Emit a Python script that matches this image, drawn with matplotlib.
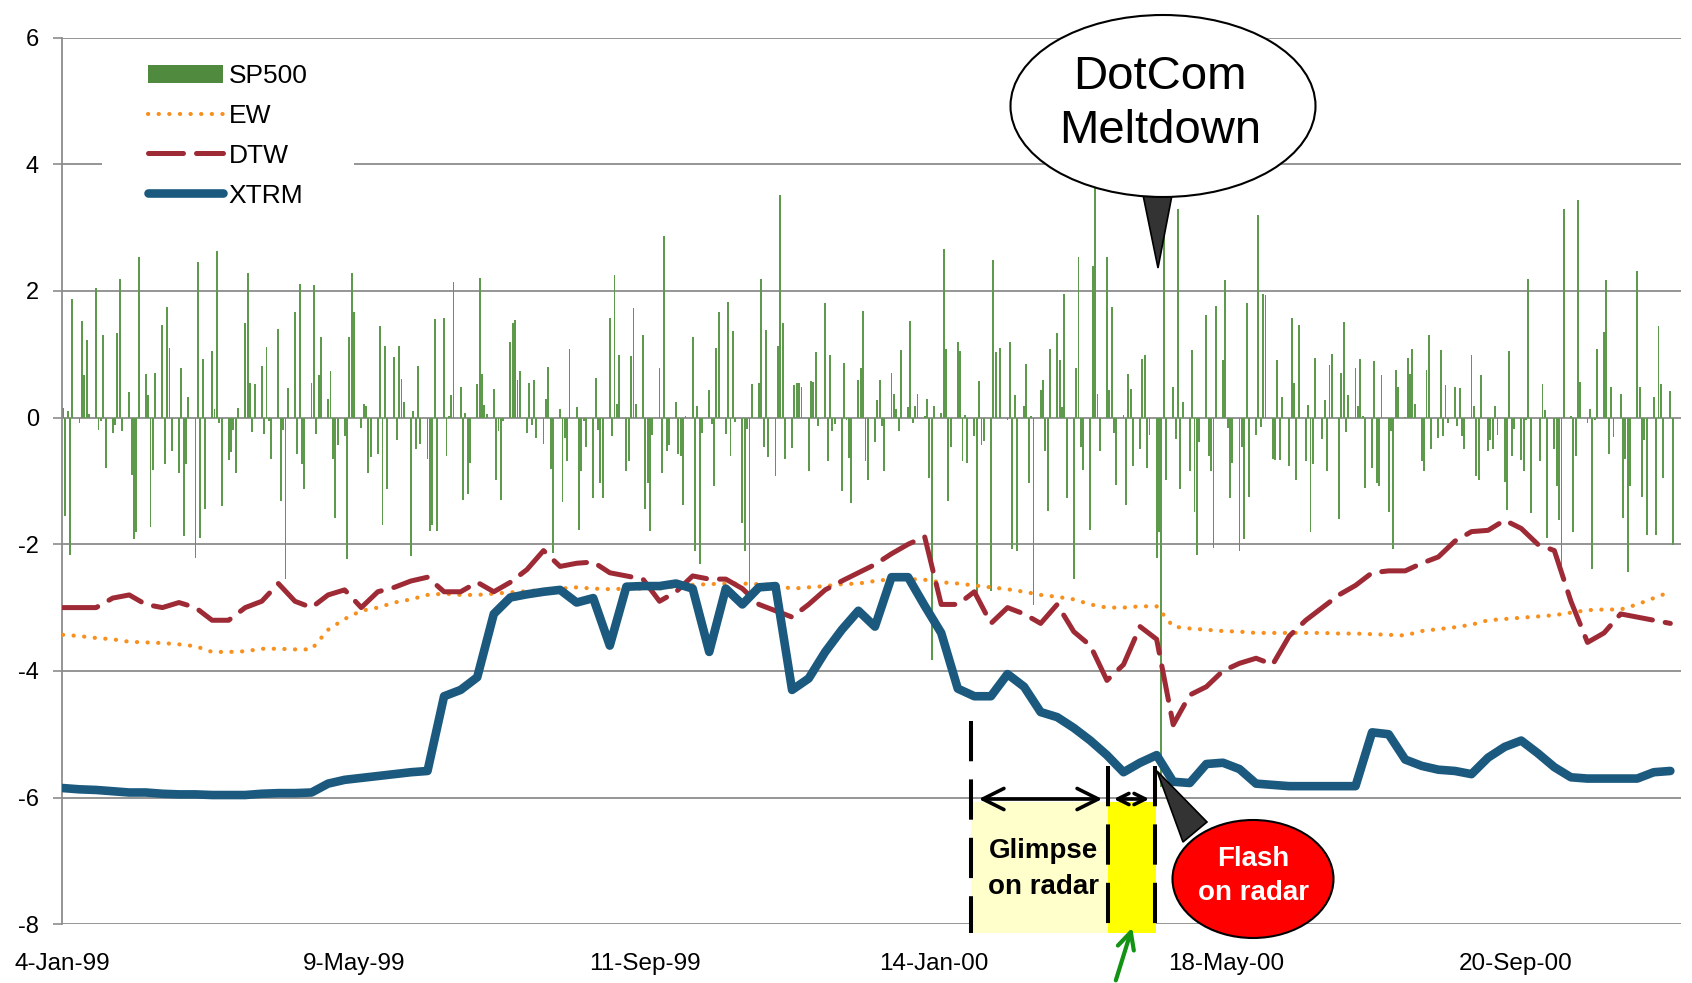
import numpy as np
import pandas as pd
import matplotlib
matplotlib.use('Agg')
import matplotlib.pyplot as plt
from matplotlib.patches import Ellipse, Polygon, Rectangle, Patch, FancyArrowPatch
from matplotlib.lines import Line2D

plt.rcParams['font.family'] = ['Liberation Sans', 'DejaVu Sans']
plt.rcParams['axes.unicode_minus'] = False

# daily SP500 returns (%), one per weekday from 4-Jan-99
sp500 = [
    0.15, -1.56, 0.10, -2.17, 1.87, -0.08, 1.53, 0.67, 1.23, 0.05,
    2.05, -0.19, -0.06, 1.31, -0.79, -0.24, -0.12, 1.33, 2.19, -0.21,
    0.40, -0.90, -1.92, -1.80, 2.53, 0.69, 0.35, -1.72, -0.82, 0.71,
    1.47, -0.74, 1.75, 1.10, -0.53, -0.88, 0.78, -1.87, -0.74, 0.32,
    -2.22, 2.46, -1.90, 0.92, -1.44, 1.06, 0.13, 2.63, -0.08, -1.40,
    -0.67, -0.55, -0.19, -0.88, 0.15, 1.50, 2.29, 0.54, -0.23, 0.53,
    0.82, -0.26, 1.12, -0.06, -0.66, 1.40, -1.32, -0.19, -2.55, 0.47,
    1.67, -0.58, 2.11, -0.74, -1.12, 0.54, 2.09, -0.26, 0.67, 1.27,
    0.30, 0.74, -0.65, -1.58, -0.44, -0.29, -2.24, 1.27, 2.28, 1.67,
    -0.16, 0.22, 0.19, -0.88, -0.62, -0.58, 1.44, -1.69, 1.13, -1.13,
    0.95, -0.36, 1.13, 0.61, 0.25, -2.19, 0.10, -0.49, 0.81, -0.42,
    -0.66, -1.79, -1.70, 1.55, -1.79, 1.57, -0.60, 0.02, 0.35, 2.14,
    0.48, -1.30, 0.08, -1.20, -0.72, 0.53, 2.21, 0.69, 0.20, 0.05,
    0.45, -0.98, -0.21, -1.30, -0.05, 1.20, 1.49, 1.54, 0.59, 0.73,
    -0.24, 0.54, -0.12, 0.60, -0.32, -0.42, 0.30, 0.80, -0.81, -2.13,
    0.14, -1.33, -0.32, -0.68, 1.09, 0.16, -1.78, -0.85, -0.05, -0.46,
    -1.27, 0.62, -0.19, -1.03, -1.27, 1.57, -0.29, 2.26, 0.22, 0.99,
    -0.85, -0.69, 0.97, 1.73, 0.22, 1.31, -1.44, -1.03, -1.79, -0.28,
    0.78, -0.88, 2.87, -0.52, -0.44, 0.24, -0.58, -0.60, -1.38, 0.02,
    1.27, -2.10, 0.19, -2.31, -0.24, 0.44, -0.10, -1.08, 1.10, 1.67,
    -0.26, 1.83, -0.60, 1.37, -0.07, -1.66, -2.10, -0.18, -2.84, 0.53,
    0.54, 2.19, -0.46, 1.39, -0.62, -0.92, 1.13, 3.51, 1.50, -0.66,
    -0.48, 0.51, 0.54, 0.54, 0.48, -0.85, 0.58, 0.57, 1.03, -0.13,
    1.81, -0.68, 0.99, -0.21, -0.10, -1.16, 0.87, -0.04, -0.63, -1.35,
    0.60, 0.78, 1.69, -0.69, -0.99, -0.39, 0.28, 0.60, -0.13,
    -0.85, 0.71, 0.37, 0.14, -0.21, 1.07, 0.16, 1.53, -0.08, 0.19,
    0.38, 0.03, 0.30, -0.95, -3.83, 0.19, 0.08, 2.67, 1.09, -1.31,
    -0.46, 1.19, 1.06, -0.69, 0.04, -0.71, -0.29, -2.78, 0.58, -0.44,
    -0.37, -2.74, 2.49, 1.04, 0.00, 1.10, -0.04, 1.20, -2.07, 0.35,
    -2.10, 0.19, 0.85, -1.04, 0.03, -2.96, 0.43, 0.60, -0.53, -1.48,
    1.09, 1.33, 0.91, 0.16, 1.96, -1.27, -2.55, 0.78, 2.53, -0.47,
    -0.83, -1.77, 2.40,
    4.76, 0.38, -0.53, 2.53, 0.43, 1.75, -0.24, -1.06, 0.04, -1.38,
    0.69, 0.46, -0.76, -0.50, 0.93, 0.99, -0.80, -0.28, -2.21, -1.81,
    -5.83, 3.33, -0.99, 0.48, -0.33, 3.30, -1.12, 0.24, -0.85, 1.07,
    -1.49, -2.17, -0.39, 1.62, -0.60, -0.85, -2.06, 1.76, 0.91, 2.17,
    -0.16, -1.27, -0.71, -2.10, -0.47, -1.91, 1.81, -1.26, -0.28, 3.20,
    -0.15, 1.96, 1.94, -0.66, -0.67, 0.91, -0.67, 0.33, -0.76, 1.58,
    0.54, -0.98, 1.46, -0.68, 0.20, -1.81, -0.74, 0.94, -0.33, 0.28,
    -0.85, 0.83, 1.01, -1.60, 0.71, 1.51, -0.23, 0.35, 0.78, 0.19,
    0.92, 0.03, -1.11, -0.80, 0.89, -1.04, -1.08, 0.67, -1.49, -0.21,
    -2.07, 0.75, 0.48, 0.01, 0.94, 0.69, 1.08, 0.22, -0.68, -0.85,
    0.76, 1.31, -0.50, -0.32, 1.07, -0.29, 0.51, -0.08, 0.49, -0.13,
    0.47, -0.29, -0.50, 0.99, 0.19, -0.92, -0.99, 0.67, -0.53, -0.35,
    -0.50, 0.19, -0.28, -1.01, -1.46, 1.05, -0.60, -0.18, -0.67, -0.84,
    -0.04, 2.19, -1.51, 0.00, -0.69, 0.53, 0.12, -1.90, -0.49, -1.08,
    -1.61, -2.54, 3.30, 0.02, -1.80, -0.60, 3.44, 0.57, -0.08, 0.14,
    -2.39, -0.04, 1.09, 1.35, 2.17, -0.57, 0.48, -0.31, 0.37, -1.58,
    -0.66, -2.44, -1.08, 2.31, 0.48, -1.26, -0.35, -1.85, 0.32, -1.86,
    1.45, 0.53, -0.96, 0.42, -2.01,
]

# weekly readings (every 5th weekday) of the three radar series
ew = [
    -3.43, -3.45, -3.48, -3.50, -3.54, -3.55, -3.56, -3.58, -3.61, -3.70,
    -3.70, -3.69, -3.65, -3.65, -3.66, -3.66, -3.35, -3.18, -3.05, -3.00,
    -2.92, -2.87, -2.80, -2.78, -2.80, -2.80, -2.78, -2.76, -2.74, -2.72,
    -2.70, -2.68, -2.70, -2.71, -2.70, -2.70, -2.70, -2.66, -2.64, -2.63,
    -2.62, -2.62, -2.63, -2.65, -2.70, -2.68, -2.66, -2.63, -2.62, -2.58,
    -2.55, -2.55, -2.56, -2.60, -2.62, -2.65, -2.68, -2.71, -2.75, -2.80,
    -2.83, -2.87, -2.95, -3.00, -3.00, -2.98, -2.98, -3.30, -3.33, -3.35,
    -3.37, -3.38, -3.40, -3.40, -3.40, -3.40, -3.40, -3.41, -3.41, -3.42,
    -3.43, -3.44, -3.37, -3.34, -3.31, -3.27, -3.20, -3.18, -3.16, -3.14,
    -3.12, -3.08, -3.04, -3.03, -3.03, -2.95, -2.85, -2.75,
]
dtw = [
    -3.00, -3.00, -3.00, -2.85, -2.80, -2.95, -3.00, -2.92, -3.00, -3.20,
    -3.20, -3.00, -2.90, -2.62, -2.90, -3.00, -2.80, -2.72, -3.00, -2.75,
    -2.68, -2.58, -2.52, -2.75, -2.75, -2.60, -2.75, -2.60, -2.40, -2.10,
    -2.35, -2.30, -2.28, -2.45, -2.50, -2.55, -2.90, -2.75, -2.50, -2.55,
    -2.55, -2.70, -2.95, -3.05, -3.15, -2.95, -2.72, -2.58, -2.45, -2.32,
    -2.15, -2.00, -1.88, -2.95, -2.95, -2.75, -3.25, -3.00, -3.10, -3.25,
    -2.95, -3.38, -3.60, -4.15, -3.90, -3.30, -3.50, -4.85, -4.38, -4.25,
    -4.00, -3.88, -3.80, -3.90, -3.45, -3.20, -3.00, -2.80, -2.65, -2.45,
    -2.42, -2.42, -2.30, -2.20, -1.95, -1.80, -1.78, -1.62, -1.75, -2.00,
    -2.10, -2.90, -3.55, -3.40, -3.10, -3.15, -3.20, -3.25,
]
xtrm = [
    -5.85, -5.87, -5.88, -5.90, -5.92, -5.92, -5.94, -5.95, -5.95, -5.96,
    -5.96, -5.96, -5.94, -5.93, -5.93, -5.92, -5.78, -5.72, -5.69, -5.66,
    -5.63, -5.60, -5.58, -4.40, -4.30, -4.10, -3.10, -2.84, -2.79, -2.75,
    -2.72, -2.92, -2.85, -3.60, -2.67, -2.66, -2.66, -2.62, -2.70, -3.70,
    -2.70, -2.95, -2.68, -2.66, -4.30, -4.12, -3.70, -3.35, -3.05, -3.30,
    -2.52, -2.52, -2.97, -3.40, -4.28, -4.40, -4.40, -4.05, -4.25, -4.65,
    -4.73, -4.90, -5.10, -5.33, -5.60, -5.45, -5.33, -5.75, -5.77, -5.47,
    -5.45, -5.55, -5.78, -5.80, -5.82, -5.82, -5.82, -5.82, -5.82, -4.97,
    -5.00, -5.40, -5.50, -5.56, -5.58, -5.63, -5.37, -5.20, -5.10, -5.30,
    -5.52, -5.68, -5.70, -5.70, -5.70, -5.70, -5.60, -5.58,
]

x_labels = ['4-Jan-99', '9-May-99', '11-Sep-99', '14-Jan-00', '18-May-00', '20-Sep-00']
y_ticks = [-8, -6, -4, -2, 0, 2, 4, 6]

dates = pd.bdate_range('1999-01-04', periods=len(sp500))
day = np.asarray((dates - dates[0]).days, dtype=float)
wday = day[::5][:len(xtrm)]

W, H = 1692, 983
fig = plt.figure(figsize=(W / 100, H / 100), dpi=100)
ax = fig.add_axes([62 / W, 1 - 924.2 / H, 1619 / W, 886.5 / H])


def fp(x, y):
    # reference pixel -> figure fraction
    return (x / W, 1 - y / H)


ew_style = dict(color='#f7901e', lw=3.0, linestyle=(0, (0.05, 2.5)), dash_capstyle='round')
dtw_style = dict(color='#9e2a35', lw=3.6, dashes=(7, 2.6), dash_capstyle='round')
xtrm_style = dict(color='#1b5a7e', lw=6.2, solid_capstyle='round')

ax.bar(day, sp500, width=0.8, color='#5e9a4c', linewidth=0, zorder=2)
ax.plot(wday, ew, zorder=3, **ew_style)
ax.plot(wday, dtw, zorder=4, **dtw_style)
ax.plot(wday, xtrm, zorder=5, solid_joinstyle='round', **xtrm_style)

xmin, xmax = -0.4, 683.5
ax.set_xlim(xmin, xmax)
ax.set_ylim(-8, 6)
tick_frac = [0.0, 0.1804, 0.3601, 0.5386, 0.719, 0.8981]
ax.set_xticks([xmin + f * (xmax - xmin) for f in tick_frac])
ax.set_xticklabels(x_labels)
ax.set_yticks(y_ticks)
ax.set_yticklabels([str(v) for v in y_ticks])
ax.tick_params(axis='x', length=0, pad=21, labelsize=17.5)
ax.tick_params(axis='y', length=6.5, width=1.2, color='#8c8c8c', pad=10, labelsize=17)
ax.grid(axis='y', color='#8c8c8c', lw=1.3, zorder=1)
ax.set_axisbelow(True)
for s in ['top', 'right', 'bottom']:
    ax.spines[s].set_visible(False)
ax.spines['left'].set_color('#8c8c8c')
ax.spines['left'].set_linewidth(1.3)

# white box behind the legend
ax.add_patch(Rectangle(fp(102, 190), 252 / W, 50 / H, transform=fig.transFigure,
                       facecolor='white', edgecolor='none', zorder=1.5))
handles = [
    Patch(facecolor='#4f8a3f', edgecolor='none'),
    Line2D([], [], **ew_style),
    Line2D([], [], **dtw_style),
    Line2D([], [], **xtrm_style),
]
ax.legend(handles, ['SP500', 'EW', 'DTW', 'XTRM'], loc='upper left',
          bbox_to_anchor=((148 - 62) / 1619, 1 - (64 - 37.7) / 886.5),
          frameon=False, fontsize=19, handlelength=2.85, handletextpad=0.2,
          labelspacing=0.6, borderpad=0, borderaxespad=0)

# radar windows
fig.add_artist(Rectangle(fp(971, 933), 137 / W, 131 / H, transform=fig.transFigure,
                         facecolor='#ffffcc', edgecolor='none', zorder=2))
fig.add_artist(Rectangle(fp(1108, 933), 48 / W, 131 / H, transform=fig.transFigure,
                         facecolor='#ffff00', edgecolor='none', zorder=2))
for x, y0 in [(971, 721), (1108, 766), (1155, 766)]:
    fig.add_artist(Line2D([x / W, x / W], [1 - y0 / H, 1 - 933 / H], transform=fig.transFigure,
                          color='black', lw=2.9, dashes=(10, 4.5), zorder=3))
for xa, xb, ms in [(976, 1105, 38), (1111, 1152, 20)]:
    fig.add_artist(FancyArrowPatch(fp(xa, 799), fp(xb, 799), transform=fig.transFigure,
                                   arrowstyle='<->', mutation_scale=ms, lw=2.6,
                                   color='black', zorder=3))
fig.add_artist(FancyArrowPatch(fp(1115, 983), fp(1133, 925), transform=fig.transFigure,
                               arrowstyle='->', mutation_scale=30, lw=3,
                               color='#139313', zorder=3))
fig.text(*fp(1043, 869), 'Glimpse\non radar', ha='center', va='center',
         fontsize=20, fontweight='bold', linespacing=1.45, zorder=6)

# DotCom Meltdown callout
fig.add_artist(Polygon([fp(1142, 190), fp(1173, 190), fp(1158, 268)], closed=True,
                       transform=fig.transFigure, facecolor='#333333',
                       edgecolor='black', lw=1.2, zorder=4))
fig.add_artist(Ellipse(fp(1163, 106), 305 / W, 182 / H, transform=fig.transFigure,
                       facecolor='white', edgecolor='black', lw=1.5, zorder=5))
fig.text(*fp(1160, 104), 'DotCom\nMeltdown', ha='center', va='center',
         fontsize=34, linespacing=1.27, zorder=6)

# Flash on radar callout
fig.add_artist(Polygon([fp(1157, 771), fp(1183, 842), fp(1207, 822)], closed=True,
                       transform=fig.transFigure, facecolor='#333333',
                       edgecolor='black', lw=1.2, zorder=4))
fig.add_artist(Ellipse(fp(1253, 879), 161 / W, 118 / H, transform=fig.transFigure,
                       facecolor='#ff0000', edgecolor='black', lw=1.5, zorder=5))
fig.text(*fp(1253, 876), 'Flash\non radar', ha='center', va='center', color='white',
         fontsize=20, fontweight='bold', linespacing=1.45, zorder=6)

fig.savefig('out.png', dpi=100)
